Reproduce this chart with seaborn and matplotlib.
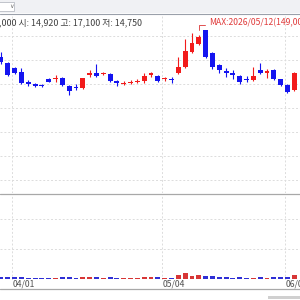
import numpy as np
import pandas as pd
import matplotlib
matplotlib.use("Agg")
import matplotlib.pyplot as plt
import seaborn as sns
from matplotlib.patches import Rectangle
from matplotlib.lines import Line2D

# ---------------- data ----------------
dates = ["03/30", "03/31", "04/01", "04/02", "04/03", "04/06", "04/07", "04/08", "04/09", "04/10",
         "04/13", "04/14", "04/15", "04/16", "04/17", "04/20", "04/21", "04/22", "04/23", "04/24",
         "04/27", "04/28", "04/29", "04/30", "05/04", "05/06", "05/07", "05/08", "05/11", "05/12",
         "05/13", "05/14", "05/15", "05/18", "05/19", "05/20", "05/21", "05/22", "05/26", "05/27",
         "05/28", "05/29", "06/01", "06/02"]
opens = [126500, 121500, 117300, 114000, 105700, 104000, 103200, 108500, 108500, 109000,
         102300, 101500, 100700, 111800, 113200, 112000, 112300, 106500, 104400, 105000,
         105700, 106500, 111800, 110700, 107800, 108200, 113200, 118200, 130700, 137300,
         149000, 130000, 119800, 114800, 113500, 110700, 108200, 107300, 115700, 113500,
         115700, 107800, 103200, 99000]
highs = [130700, 122300, 118000, 117300, 107300, 104800, 104000, 109000, 111500, 110000,
         103200, 104000, 109300, 115700, 120700, 114000, 113200, 107000, 106500, 107000,
         108200, 113200, 114000, 111500, 109800, 110000, 126500, 141500, 146500, 145000,
         149000, 131000, 120700, 117300, 116000, 111500, 110700, 118200, 121500, 116500,
         116500, 108500, 104000, 114000]
lows = [120700, 110700, 112300, 104000, 102300, 101500, 101500, 105700, 105700, 102300,
        94800, 99000, 100000, 109800, 110000, 111500, 106000, 102300, 103500, 104000,
        105000, 104800, 109800, 106000, 106500, 104800, 112300, 117300, 129800, 136500,
        125700, 116500, 113200, 109800, 108500, 104000, 105500, 106500, 112300, 109000,
        107000, 102300, 96500, 98500]
closes = [122300, 111500, 113200, 104800, 104000, 102300, 102700, 106000, 109000, 103500,
          98200, 100700, 109000, 112800, 110700, 112800, 106500, 104800, 105200, 105700,
          106800, 110700, 112800, 106500, 108600, 107300, 118200, 131500, 138200, 143200,
          126500, 118000, 115700, 113200, 111500, 105700, 107000, 110700, 113500, 114800,
          108200, 103200, 97500, 113200]
volumes = [100000, 120000, 80000, 110000, 70000, 60000, 50000, 60000, 70000, 80000,
           90000, 60000, 110000, 90000, 80000, 70000, 90000, 60000, 50000, 50000,
           60000, 90000, 80000, 90000, 60000, 60000, 200000, 300000, 160000, 200000,
           160000, 150000, 120000, 80000, 70000, 90000, 60000, 70000, 80000, 60000,
           90000, 90000, 110000, 190000]
info_text = ",000 시: 14,920 고: 17,100 저: 14,750"
max_label = "MAX:2026/05/12(149,000)"
grid_dates = ["04/01", "05/04", "06/01"]

# ---------------- style ----------------
sns.set_style("white")
plt.rcParams["font.family"] = ["Noto Sans CJK KR", "DejaVu Sans"]

RED = "#f21b1b"
BLUE = "#1414f0"
GRID = "#dcdcdc"

n = len(dates)
xs = np.arange(n)
o = np.array(opens, float); h = np.array(highs, float)
l = np.array(lows, float); c = np.array(closes, float)
up = c >= o
colors = np.where(up, RED, BLUE)

W, H = 300, 300
fig = plt.figure(figsize=(3, 3), dpi=100)
fig.patch.set_facecolor("white")

def fx(px):
    return px / W
def fy(py):
    return 1 - py / H

# pixel geometry
step = 6.82
x0px = 1.0
xl = (0 - x0px) / step
xr = (W - x0px) / step
bw = 0.72

# header band
fig.add_artist(Rectangle((0, fy(13)), 1, 13 / H, transform=fig.transFigure,
                         facecolor="#f0f1f4", edgecolor="none", zorder=0))
fig.add_artist(Rectangle((fx(-2), fy(11)), 16 / W, 9 / H, transform=fig.transFigure,
                         facecolor="white", edgecolor="#b8bcc4", lw=0.6, zorder=1))
fig.text(fx(12), fy(6.5), "∨", fontsize=4.5, color="#707070", ha="center", va="center",
         family=["DejaVu Sans"])
fig.add_artist(Line2D([0, 1], [fy(13.5), fy(13.5)], transform=fig.transFigure,
                      color="#9aa0aa", lw=0.8))

# price panel
ax = fig.add_axes([0, fy(193), 1, (193 - 14) / H])
ppx = 833.33
ytop = 149000 + (30 - 14) * ppx
ybot = 149000 - (193 - 30) * ppx
ax.set_xlim(xl, xr)
ax.set_ylim(ybot, ytop)
for gy in [144000, 124000, 104000, 84000, 64000, 44000, 24000]:
    ax.axhline(gy, color=GRID, lw=0.7, ls=(0, (2, 2)), zorder=0)
gpos = [dates.index(d) - bw / 2 for d in grid_dates]
for gx in gpos:
    ax.axvline(gx, color=GRID, lw=0.7, ls=(0, (2, 2)), zorder=0)

ax.vlines(xs, l, h, colors=colors, lw=0.8, zorder=2)
body_lo = np.minimum(o, c)
body_h = np.maximum(np.abs(c - o), 700)
ax.bar(xs, body_h, bottom=body_lo, width=bw, color=colors, edgecolor="none", zorder=3)
for s in ax.spines.values():
    s.set_visible(False)
ax.set_xticks([]); ax.set_yticks([])

# max annotation
im = int(np.argmax(h))
mx = im - 0.9
ax.plot([mx, mx, mx + 0.8], [h[im], h[im] + 5 * ppx, h[im] + 5 * ppx], color="#e05050", lw=0.7,
        zorder=4, clip_on=False)
fig.text(fx(209), fy(23), max_label, fontsize=6.2, color="#e03a3a", ha="left", va="center")

# info text
fig.text(fx(-1), fy(22.5), info_text, fontsize=6.4, color="#404040", ha="left", va="center")

# separator
fig.add_artist(Line2D([0, 1], [fy(193.8), fy(193.8)], transform=fig.transFigure,
                      color="#a8a8a8", lw=0.9))

# volume panel
axv = fig.add_axes([0, fy(280), 1, (280 - 194.5) / H])
vpx = 50000 / 1.0  # volume per pixel
axv.set_xlim(xl, xr)
axv.set_ylim(-1 * vpx, (279 - 194.5) * vpx)
for gy in [30 * vpx, 60 * vpx]:
    axv.axhline(gy, color=GRID, lw=0.7, ls=(0, (2, 2)), zorder=0)
for gx in gpos:
    axv.axvline(gx, color=GRID, lw=0.7, ls=(0, (2, 2)), zorder=0)
vdf = pd.DataFrame({"x": xs, "vol": volumes, "dir": np.where(up, "up", "down")})
sns.barplot(data=vdf, x="x", y="vol", hue="dir", palette={"up": RED, "down": BLUE},
            native_scale=True, width=bw, dodge=False, legend=False, ax=axv,
            edgecolor="none", zorder=3)
axv.set_xlim(xl, xr)
axv.set_ylim(-1 * vpx, (279 - 194.5) * vpx)
for s in axv.spines.values():
    s.set_visible(False)
axv.set_xticks([]); axv.set_yticks([])
axv.set_xlabel(""); axv.set_ylabel("")

# date labels
for d, gx in zip(grid_dates, gpos):
    px = x0px + gx * step
    fig.text(fx(px + 0.5), fy(284), d, fontsize=6.2, color="#505050", ha="left", va="center")

# bottom border and scrollbar
fig.add_artist(Line2D([0, 1], [fy(288.5), fy(288.5)], transform=fig.transFigure,
                      color="#a8a8a8", lw=0.9))
fig.add_artist(Rectangle((fx(268), fy(299)), 40 / W, 3 / H, transform=fig.transFigure,
                         facecolor="#d0d0d0", edgecolor="none"))

fig.savefig("out.png", dpi=100)
